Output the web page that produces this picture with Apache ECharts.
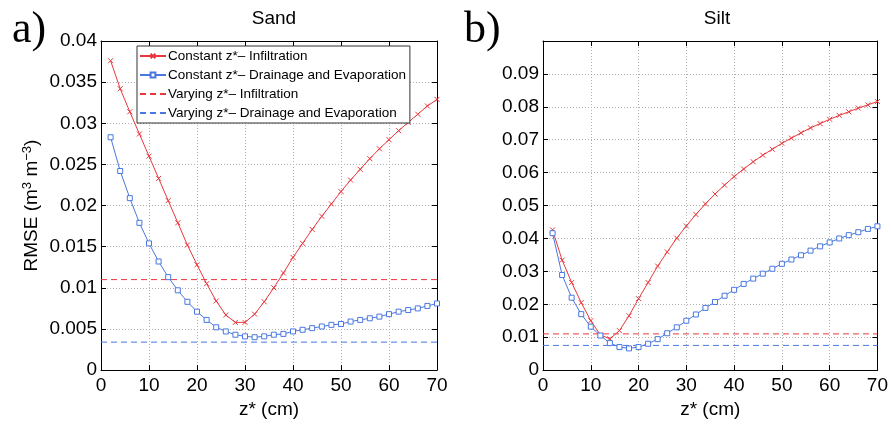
<!DOCTYPE html>
<html><head><meta charset="utf-8">
<script src="https://cdn.jsdelivr.net/npm/echarts@6/dist/echarts.min.js"></script>
<style>html,body{margin:0;padding:0;background:#fff}#c{width:891px;height:424px}</style>
</head><body><div id="c"></div>
<script>
const zStar = [2,4,6,8,10,12,14,16,18,20,22,24,26,28,30,32,34,36,38,40,42,44,46,48,50,52,54,56,58,60,62,64,66,68,70];
const sandConstInf = [0.0376,0.0342,0.0314,0.0287,0.0260,0.0233,0.0206,0.0179,0.0152,0.0128,0.0105,0.0084,0.0067,0.0058,0.0058,0.0068,0.0083,0.0100,0.0118,0.0137,0.0154,0.0171,0.0187,0.0202,0.0217,0.0231,0.0244,0.0257,0.0269,0.0280,0.0291,0.0301,0.0311,0.0321,0.0329];
const sandConstDE = [0.0283,0.0242,0.0209,0.0179,0.0154,0.0132,0.0113,0.0097,0.0083,0.0071,0.0061,0.0052,0.0047,0.0043,0.0041,0.0040,0.0041,0.0043,0.0044,0.0047,0.0049,0.0051,0.0053,0.0055,0.0056,0.0059,0.0061,0.0063,0.0065,0.0068,0.0071,0.0073,0.0075,0.0078,0.0081];
const sandVaryInf = 0.0110;
const sandVaryDE = 0.0034;
const siltConstInf = [0.0426,0.0334,0.0266,0.0205,0.0150,0.0107,0.0095,0.0120,0.0165,0.0217,0.0266,0.0316,0.0359,0.0401,0.0438,0.0473,0.0505,0.0535,0.0562,0.0588,0.0611,0.0633,0.0653,0.0671,0.0689,0.0705,0.0721,0.0736,0.0749,0.0762,0.0774,0.0785,0.0796,0.0806,0.0816];
const siltConstDE = [0.0416,0.0289,0.0220,0.0170,0.0132,0.0105,0.0082,0.0070,0.0066,0.0070,0.0080,0.0094,0.0112,0.0130,0.0150,0.0169,0.0189,0.0207,0.0226,0.0244,0.0262,0.0278,0.0293,0.0308,0.0323,0.0336,0.0349,0.0363,0.0376,0.0388,0.0400,0.0410,0.0419,0.0429,0.0437];
const siltVaryInf = 0.0110;
const siltVaryDE = 0.0075;
const names = ['Constant z*\u2013 Infiltration','Constant z*\u2013 Drainage and Evaporation','Varying z*\u2013 Infiltration','Varying z*\u2013 Drainage and Evaporation'];
const xRange = [0, 70];

const RED = '#e8383d', BLUE = '#4a78e0';
const FONT = 'Liberation Sans';
const crossPath = 'path://M0,0L10,10M10,0L0,10';
const squarePath = 'path://M0,0L10,0L10,10L0,10Z';
const pair = (xs, ys) => xs.map((x, i) => [x, ys[i]]);
const flat = v => xRange.map(x => [x, v]);

const chart = echarts.init(document.getElementById('c'));
const grids = [
  {left: 101, right: 454, top: 41, bottom: 51},
  {left: 543, right: 12, top: 41, bottom: 51}
];
const splitLine = {show: true, lineStyle: {color: '#b0b0b0', type: [1, 2], width: 1}};
const xAxes = [], yAxes = [];
const yCfg = [{max: 0.04, interval: 0.005}, {max: 0.1, interval: 0.01}];
for (let g = 0; g < 2; g++) {
  xAxes.push({type: 'value', gridIndex: g, min: 0, max: 70, interval: 10, position: 'bottom',
    axisLine: {show: true, onZero: false, lineStyle: {color: '#000'}},
    axisTick: {show: true, inside: true, length: 5, lineStyle: {color: '#000'}},
    axisLabel: {fontFamily: FONT, fontSize: 19, color: '#000', margin: 6},
    splitLine,
    name: 'z* (cm)', nameLocation: 'middle', nameGap: 23,
    nameTextStyle: {fontFamily: FONT, fontSize: 19, color: '#000'}});
  xAxes.push({type: 'value', gridIndex: g, min: 0, max: 70, interval: 10, position: 'top',
    axisLine: {show: true, onZero: false, lineStyle: {color: '#000'}},
    axisTick: {show: true, inside: true, length: 5, lineStyle: {color: '#000'}},
    axisLabel: {show: false}, splitLine: {show: false}});
  const yc = yCfg[g];
  yAxes.push({type: 'value', gridIndex: g, min: 0, max: yc.max, interval: yc.interval, position: 'left',
    axisLine: {show: true, onZero: false, lineStyle: {color: '#000'}},
    axisTick: {show: true, inside: true, length: 5, lineStyle: {color: '#000'}},
    axisLabel: {fontFamily: FONT, fontSize: 19, color: '#000', margin: 4,
      formatter: v => (g === 1 && Math.abs(v - 0.1) < 1e-9) ? '' : String(+v.toFixed(4))},
    splitLine,
    name: g === 0 ? '{a|RMSE (m}{s|3}{a| m}{s|\u22123}{a|)}' : '',
    nameLocation: 'middle', nameGap: 60, nameRotate: 90,
    nameTextStyle: {fontFamily: FONT, color: '#000',
      rich: {a: {fontFamily: FONT, fontSize: 19, color: '#000', lineHeight: 20, verticalAlign: 'bottom'},
             s: {fontFamily: FONT, fontSize: 13, color: '#000', lineHeight: 20, verticalAlign: 'top', padding: [0, 0, 6, 0]}}}});
  yAxes.push({type: 'value', gridIndex: g, min: 0, max: yc.max, interval: yc.interval, position: 'right',
    axisLine: {show: true, onZero: false, lineStyle: {color: '#000'}},
    axisTick: {show: true, inside: true, length: 5, lineStyle: {color: '#000'}},
    axisLabel: {show: false}, splitLine: {show: false}});
}
function solid(name, data, g, color, sym) {
  const isSq = sym === squarePath;
  return {type: 'line', name, xAxisIndex: g * 2, yAxisIndex: g * 2, data,
    symbol: sym, symbolSize: 5, showSymbol: true,
    lineStyle: {color, width: 1},
    itemStyle: {color: isSq ? '#fff' : color, borderColor: color, borderWidth: 1},
    animation: false, z: 3};
}
function dashed(name, v, g, color) {
  return {type: 'line', name, xAxisIndex: g * 2, yAxisIndex: g * 2, data: flat(v), symbol: 'none',
    lineStyle: {color, width: 1, type: [6, 4]}, itemStyle: {color}, animation: false, z: 2};
}
const series = [
  solid(names[0], pair(zStar, sandConstInf), 0, RED, crossPath),
  solid(names[1], pair(zStar, sandConstDE), 0, BLUE, squarePath),
  dashed(names[2], sandVaryInf, 0, RED),
  dashed(names[3], sandVaryDE, 0, BLUE),
  solid(names[0], pair(zStar, siltConstInf), 1, RED, crossPath),
  solid(names[1], pair(zStar, siltConstDE), 1, BLUE, squarePath),
  dashed(names[2], siltVaryInf, 1, RED),
  dashed(names[3], siltVaryDE, 1, BLUE)
];
chart.setOption({
  animation: false,
  backgroundColor: '#fff',
  title: [
    {text: 'Sand', left: 269, top: 4, textAlign: 'center', textStyle: {fontFamily: FONT, fontSize: 19, fontWeight: 'normal', color: '#000'}},
    {text: 'Silt', left: 712, top: 4, textAlign: 'center', textStyle: {fontFamily: FONT, fontSize: 19, fontWeight: 'normal', color: '#000'}},
    {text: 'a)', left: 7, top: 3, textStyle: {fontFamily: 'Liberation Serif', fontSize: 44, fontWeight: 'normal', color: '#000'}},
    {text: 'b)', left: 459, top: 3, textStyle: {fontFamily: 'Liberation Serif', fontSize: 44, fontWeight: 'normal', color: '#000'}}
  ],
  legend: {data: [
      {name: names[0]},
      {name: names[1]},
      {name: names[2], itemStyle: {opacity: 0}},
      {name: names[3], itemStyle: {opacity: 0}}
    ],
    orient: 'vertical', left: 137, top: 46, itemGap: 5, itemWidth: 26, itemHeight: 6,
    padding: [3, 4, 3, 2], borderColor: '#333', borderWidth: 1, backgroundColor: '#fff',
    textStyle: {fontFamily: FONT, fontSize: 13.5, color: '#000', padding: [0, 0, 0, -3]}},
  grid: grids,
  xAxis: xAxes,
  yAxis: yAxes,
  series
});
</script></body></html>
